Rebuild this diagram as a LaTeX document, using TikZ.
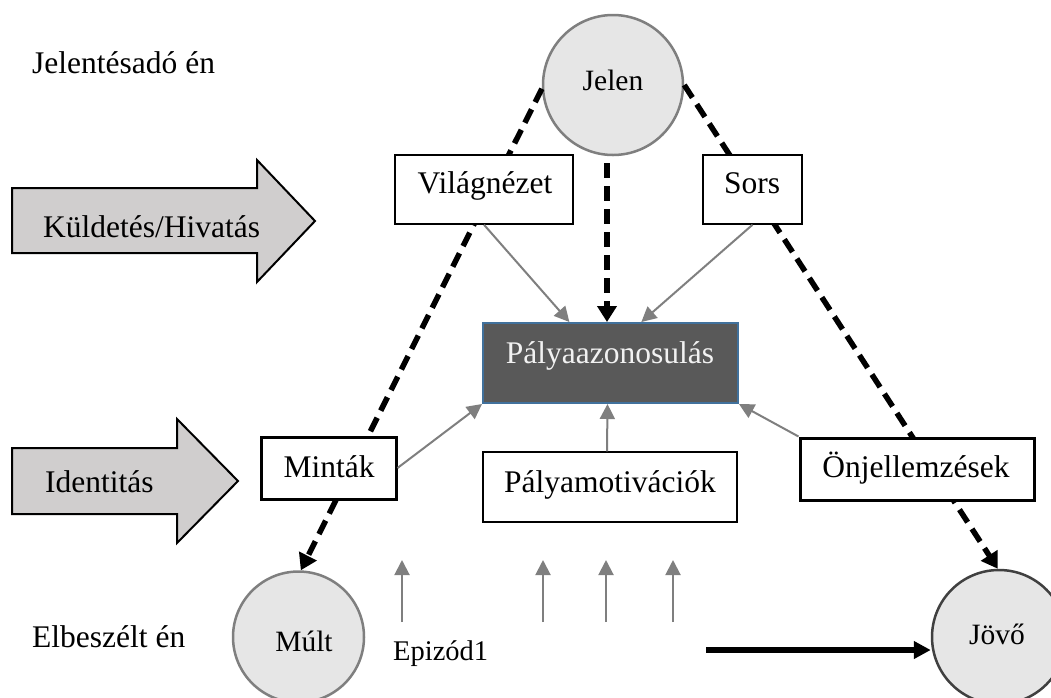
\documentclass[tikz,border=0pt]{standalone}
\usepackage{fontspec}
\setmainfont{Liberation Serif}
\usetikzlibrary{arrows.meta,calc}
\definecolor{circfill}{HTML}{E6E6E6}
\definecolor{circline}{HTML}{7F7F7F}
\definecolor{circdark}{HTML}{404040}
\definecolor{arrowfill}{HTML}{D0CECE}
\definecolor{darkfill}{HTML}{595959}
\definecolor{darkline}{HTML}{41719C}
\definecolor{conn}{HTML}{7F7F7F}
\definecolor{lighttext}{HTML}{F2F2F2}
\begin{document}
\begin{tikzpicture}[x=1pt,y=-1pt,
  bigtxt/.style={font=\fontsize{31.5}{36}\selectfont, inner sep=0pt, anchor=base},
  smalltxt/.style={font=\fontsize{28.5}{32}\selectfont, inner sep=0pt, anchor=base},
  circtxt/.style={font=\fontsize{29.5}{34}\selectfont, inner sep=0pt, anchor=base},
  timecircle/.style={circle, draw=circline, line width=2.5pt, fill=circfill, inner sep=0pt},
  thinbox/.style={rectangle, draw=black, line width=1.5pt, fill=white, inner sep=0pt},
  thickbox/.style={rectangle, draw=black, line width=3pt, fill=white, inner sep=0pt},
  darkbox/.style={rectangle, draw=darkline, line width=2pt, fill=darkfill, inner sep=0pt},
  bigarrow/.style={draw=black, line width=2pt, fill=arrowfill, line join=miter},
  dasharrow/.style={draw=black, line width=5.5pt, dash pattern=on 15pt off 8pt, -{Triangle[length=16pt,width=19pt]}},
  grayarrow/.style={draw=conn, line width=2pt, -{Triangle[length=15pt,width=15pt]}},
  blackarrow/.style={draw=black, line width=6pt, -{Triangle[length=17pt,width=17pt]}}
]
\useasboundingbox (0,0) rectangle (1051,697);

% big block arrows on the left
\draw[bigarrow] (12,188) -- (257,188) -- (257,160) -- (315,221) -- (257,282) -- (257,253) -- (12,253) -- cycle;
\draw[bigarrow] (12,448) -- (177,448) -- (177,419) -- (238,481) -- (177,543) -- (177,514) -- (12,514) -- cycle;
\node[bigtxt, anchor=base west] (kuldT) at (43,237) {Küldetés/Hivatás};
\node[bigtxt, anchor=base west] (identT) at (45,492) {Identitás};

% side labels
\node[bigtxt, anchor=base west] (jelentT) at (32,73) {Jelentésadó én};
\node[bigtxt, anchor=base west] (elbT) at (32,647) {Elbeszélt én};

% circles
\node[timecircle, minimum size=140pt] (jelen) at (613,85) {};
\node[timecircle, minimum size=131pt] (mult) at (298.5,637) {};
\node[timecircle, draw=circdark, minimum size=134pt] (jovo) at (999,637) {};
\node[circtxt] (jelenT) at (613,90) {Jelen};
\node[circtxt] (multT) at (304,651) {Múlt};
\node[circtxt] (jovoT) at (997,644) {Jövő};

% dashed connectors
\draw[dasharrow] (jelen.183) -- (mult.88);
\draw[dasharrow] (jelen.0) -- (jovo.91);

% boxes
\node[thinbox, minimum width=178pt, minimum height=69pt] (vil) at (484,189.5) {};
\node[thinbox, minimum width=99pt, minimum height=69pt] (sors) at (752.5,189.5) {};
\node[darkbox, minimum width=255pt, minimum height=80pt] (pa) at (610.5,363) {};
\node[thickbox, minimum width=135pt, minimum height=62pt] (mintak) at (328.5,468) {};
\node[thinbox, minimum width=254pt, minimum height=70pt] (pmot) at (610,487) {};
\node[thickbox, minimum width=234pt, minimum height=62pt] (onj) at (917,469) {};

\node[bigtxt] (vilT) at (485,193) {Világnézet};
\node[bigtxt] (sorsT) at (752,193) {Sors};
\node[bigtxt, text=lighttext] (paT) at (610,363) {Pályaazonosulás};
\node[bigtxt] (mintakT) at (329,477) {Minták};
\node[bigtxt] (pmotT) at (610,492) {Pályamotivációk};
\node[bigtxt] (onjT) at (916,477) {Önjellemzések};

% vertical dashed arrow from Jelen to Pályaazonosulás
\draw[dasharrow] ([xshift=-6pt,yshift=-7pt]jelen.south) -- ([xshift=-3.5pt]pa.north);

% gray connectors into Pályaazonosulás
\draw[grayarrow] (vil.south) -- ($(pa.north west)!0.34!(pa.north east)$);
\draw[grayarrow] (sors.south) -- ($(pa.north west)!0.62!(pa.north east)$);
\draw[grayarrow] (mintak.east) -- (pa.south west);
\draw[grayarrow] ([xshift=-3pt]pmot.north) -- ([xshift=-3pt]pa.south);
\draw[grayarrow] (onj.north west) -- (pa.south east);

% episode arrows
\coordinate (u1s) at (402,622); \coordinate (u1e) at (402,560);
\coordinate (u2s) at (543,622); \coordinate (u2e) at (543,560);
\coordinate (u3s) at (606,622); \coordinate (u3e) at (606,560);
\coordinate (u4s) at (673,622); \coordinate (u4e) at (673,560);
\draw[grayarrow] (u1s) -- (u1e);
\draw[grayarrow] (u2s) -- (u2e);
\draw[grayarrow] (u3s) -- (u3e);
\draw[grayarrow] (u4s) -- (u4e);
\node[smalltxt, anchor=base west] (epT) at (393,660) {Epizód1};

% time arrow to Jövő
\coordinate (hs) at (706,650);
\draw[blackarrow] (hs) -- (hs -| jovo.west);
\end{tikzpicture}
\end{document}
